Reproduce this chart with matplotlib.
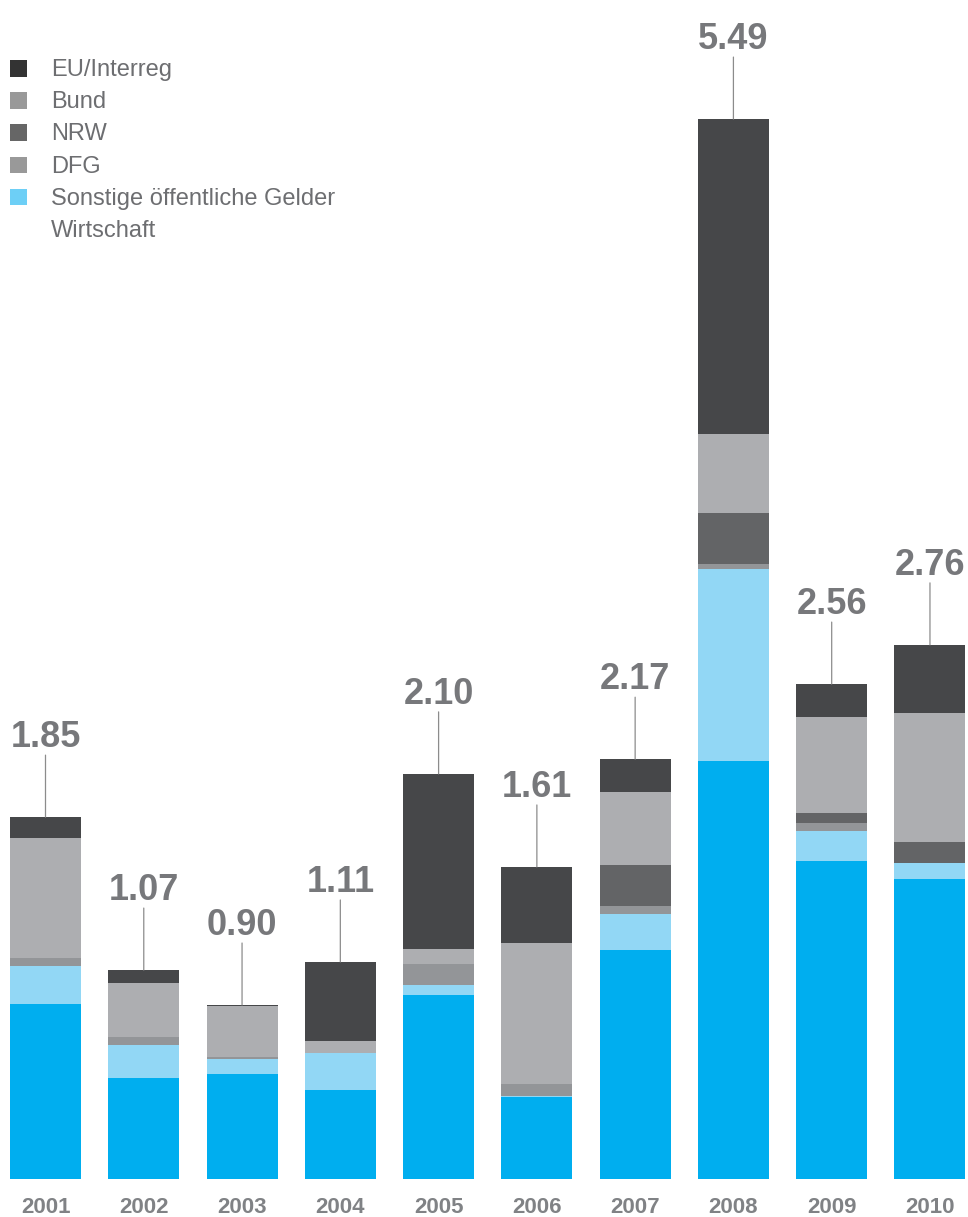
import numpy as np
import matplotlib
matplotlib.use("Agg")
import matplotlib.pyplot as plt
from matplotlib.patches import Rectangle

plt.rcParams.update({
    "font.family": ["Liberation Sans", "DejaVu Sans"],
})

# data (Mio. EUR), bottom to top of each stack
years = ["2001", "2002", "2003", "2004", "2005", "2006", "2007", "2008", "2009", "2010"]
totals = ["1.85", "1.07", "0.90", "1.11", "2.10", "1.61", "2.17", "5.49", "2.56", "2.76"]

wirtschaft = [0.908, 0.523, 0.544, 0.461, 0.953, 0.425, 1.186, 2.165, 1.647, 1.554]
sonstige = [0.195, 0.171, 0.078, 0.192, 0.052, 0.005, 0.186, 0.994, 0.155, 0.083]
dfg = [0.041, 0.041, 0.010, 0.0, 0.109, 0.062, 0.041, 0.026, 0.041, 0.0]
nrw = [0.0, 0.0, 0.0, 0.0, 0.0, 0.0, 0.212, 0.264, 0.052, 0.109]
bund = [0.621, 0.280, 0.264, 0.062, 0.078, 0.730, 0.378, 0.409, 0.497, 0.668]
eu = [0.109, 0.067, 0.005, 0.409, 0.906, 0.394, 0.171, 1.631, 0.171, 0.352]

series = [
    (wirtschaft, "#00AEEF"),
    (sonstige, "#92D7F5"),
    (dfg, "#939598"),
    (nrw, "#636466"),
    (bund, "#ADAEB1"),
    (eu, "#464749"),
]

legend_names = ["EU/Interreg", "Bund", "NRW", "DFG", "Sonstige öffentliche Gelder", "Wirtschaft"]
legend_colors = ["#333333", "#999999", "#666666", "#999999", "#6DCFF6", None]

W, H = 968, 1217
fig = plt.figure(figsize=(W / 100, H / 100), dpi=100)
base_px = 1179
ax = fig.add_axes([0, (H - base_px) / H, 1, base_px / H])
ax.axis("off")

x = np.arange(len(years))
bottom = np.zeros(len(years))
for vals, col in series:
    vals = np.array(vals)
    ax.bar(x, vals, bottom=bottom, width=0.722, color=col, linewidth=0)
    bottom += vals

ax.set_xlim(-0.463, 9.387)
ax.set_ylim(0, base_px / 193.1)

text_gray = "#77787B"
for i, (yr, lab) in enumerate(zip(years, totals)):
    top = bottom[i]
    ax.annotate("", xy=(i, top), xytext=(0, 62 * 0.72), textcoords="offset points",
                arrowprops=dict(arrowstyle="-", color="#8C8C8C", lw=0.9,
                                shrinkA=0, shrinkB=0))
    ax.annotate(lab, xy=(i, top), xytext=(0, 70 * 0.72), textcoords="offset points",
                ha="center", va="baseline", fontsize=26, fontweight="bold",
                color=text_gray, annotation_clip=False)
    ax.annotate(yr, xy=(i, 0), xytext=(0, -34 * 0.72), textcoords="offset points",
                ha="center", va="baseline", fontsize=16, fontweight="bold",
                color="#808285", annotation_clip=False)

# legend drawn by hand
for k, (name, col) in enumerate(zip(legend_names, legend_colors)):
    base = 76 + 32.2 * k
    if col is not None:
        fig.add_artist(Rectangle((10 / W, 1 - (base + 0.5) / H), 17 / W, 16.5 / H,
                                 transform=fig.transFigure, color=col, lw=0))
    fig.text(51 / W, 1 - base / H, name, fontsize=17, color="#6D6E71", va="baseline")

fig.savefig("out.png", dpi=100)
